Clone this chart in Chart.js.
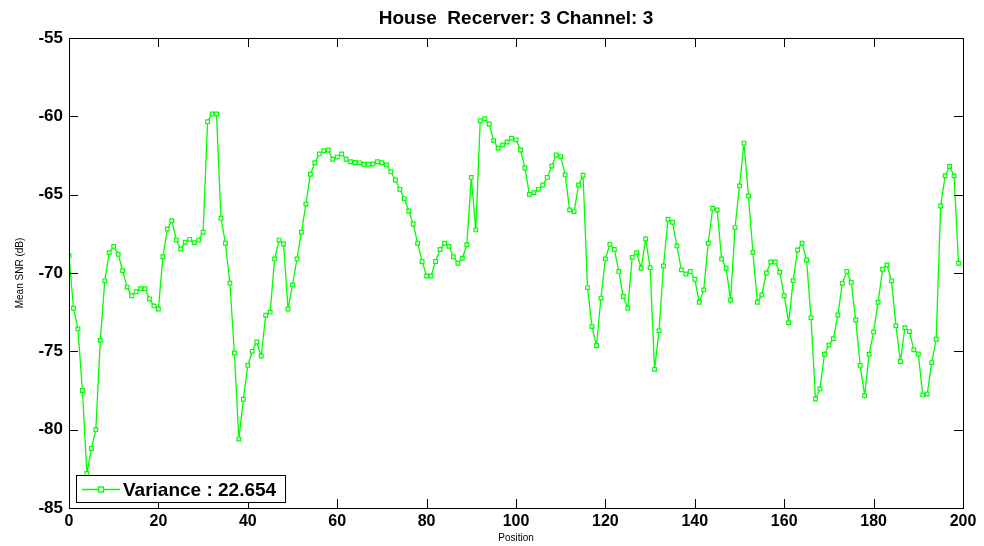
<!DOCTYPE html>
<html>
<head>
<meta charset="utf-8">
<script src="https://cdn.jsdelivr.net/npm/chart.js@4.4.1/dist/chart.umd.min.js"></script>
<style>
  html, body { margin: 0; padding: 0; background: #fff; }
  #wrap { width: 984px; height: 546px; }
</style>
</head>
<body>
<div id="wrap"><canvas id="snrChart" width="984" height="546"></canvas></div>
<script>
// Mean SNR per position (positions 0..199)
const snr = [
  -68.9, -72.25, -73.57, -77.5, -82.8, -81.2, -80.0, -74.3, -70.5, -68.7,
  -68.3, -68.8, -69.85, -70.9, -71.45, -71.2, -71.0, -71.0, -71.65, -72.1,
  -72.3, -68.96, -67.2, -66.66, -67.9, -68.47, -68.04, -67.85, -68.06, -67.9,
  -67.4, -60.34, -59.85, -59.85, -66.5, -68.1, -70.65, -75.1, -80.6, -78.06,
  -75.9, -75.0, -74.4, -75.3, -72.7, -72.5, -69.1, -67.9, -68.15, -72.3,
  -70.76, -69.1, -67.4, -65.6, -63.7, -62.96, -62.4, -62.2, -62.15, -62.74,
  -62.6, -62.4, -62.74, -62.9, -62.95, -62.97, -63.06, -63.06, -63.04, -62.9,
  -62.96, -63.1, -63.53, -64.06, -64.66, -65.25, -66.04, -66.87, -68.1, -69.27,
  -70.19, -70.19, -69.27, -68.5, -68.1, -68.3, -68.96, -69.38, -69.06, -68.2,
  -63.9, -67.25, -60.28, -60.15, -60.49, -61.55, -62.04, -61.83, -61.64, -61.4,
  -61.5, -62.15, -63.3, -64.98, -64.87, -64.66, -64.38, -63.9, -63.17, -62.47,
  -62.57, -63.74, -65.98, -66.08, -64.38, -63.76, -70.93, -73.42, -74.63, -71.6,
  -69.1, -68.17, -68.5, -69.9, -71.5, -72.25, -69.0, -68.7, -69.7, -67.83,
  -69.66, -76.15, -73.68, -69.55, -66.57, -66.76, -68.27, -69.8, -70.06, -69.9,
  -70.4, -71.87, -71.08, -68.1, -65.87, -65.98, -69.1, -69.7, -71.72, -67.1,
  -64.44, -61.72, -65.08, -68.68, -71.87, -71.4, -70.0, -69.3, -69.3, -69.95,
  -71.45, -73.17, -70.49, -68.53, -68.1, -69.17, -72.85, -78.04, -77.4, -75.19,
  -74.6, -74.19, -72.68, -70.66, -69.9, -70.6, -73.0, -75.9, -77.83, -75.19,
  -73.76, -71.87, -69.76, -69.49, -70.5, -73.36, -75.65, -73.49, -73.74, -74.9,
  -75.17, -77.78, -77.72, -75.72, -74.23, -65.72, -63.8, -63.2, -63.8, -69.38
];
const positions = snr.map((_, i) => i);

const xTicks = [0, 20, 40, 60, 80, 100, 120, 140, 160, 180, 200];
const yTicks = [-85, -80, -75, -70, -65, -60, -55];

const chartTitle = "House  Recerver: 3 Channel: 3";
const xTitle = "Position";
const yTitle = "Mean SNR (dB)";
const legendLabel = "Variance : 22.654";

const green = "#00ff00";
const fontFamily = "'Liberation Sans', Arial, sans-serif";

// box, inward ticks, titles and legend, MATLAB style
const matlabFrame = {
  id: "matlabFrame",
  beforeDraw(chart) {
    const ctx = chart.ctx;
    ctx.save();
    ctx.fillStyle = "#fff";
    ctx.fillRect(0, 0, chart.width, chart.height);
    ctx.restore();
  },
  afterDraw(chart) {
    const { ctx, chartArea: a, scales } = chart;
    const len = 9;
    ctx.save();
    ctx.strokeStyle = "#000";
    ctx.lineWidth = 1;
    ctx.beginPath();
    xTicks.forEach(v => {
      const px = Math.round(scales.x.getPixelForValue(v)) + 0.5;
      ctx.moveTo(px, a.bottom); ctx.lineTo(px, a.bottom - len);
      ctx.moveTo(px, a.top); ctx.lineTo(px, a.top + len);
    });
    yTicks.forEach(v => {
      const py = Math.round(scales.y.getPixelForValue(v)) + 0.5;
      ctx.moveTo(a.left, py); ctx.lineTo(a.left + len, py);
      ctx.moveTo(a.right, py); ctx.lineTo(a.right - len, py);
    });
    ctx.stroke();
    ctx.strokeRect(Math.round(a.left) + 0.5, Math.round(a.top) + 0.5,
      Math.round(a.right - a.left), Math.round(a.bottom - a.top));

    // title
    ctx.fillStyle = "#000";
    ctx.textAlign = "center";
    ctx.textBaseline = "alphabetic";
    ctx.font = "bold 19px " + fontFamily;
    ctx.fillText(chartTitle, (a.left + a.right) / 2, 24);

    // axis titles
    ctx.font = "10px " + fontFamily;
    ctx.fillText(xTitle, (a.left + a.right) / 2, 541);
    ctx.save();
    ctx.translate(23, (a.top + a.bottom) / 2);
    ctx.rotate(-Math.PI / 2);
    ctx.fillText(yTitle, 0, 0);
    ctx.restore();

    // legend box
    const lx = 76, ly = 475, lw = 209, lh = 27;
    ctx.fillStyle = "#fff";
    ctx.fillRect(lx, ly, lw, lh);
    ctx.strokeStyle = "#000";
    ctx.strokeRect(lx + 0.5, ly + 0.5, lw, lh);
    ctx.strokeStyle = green;
    ctx.lineWidth = 1.3;
    ctx.beginPath();
    ctx.moveTo(82, 489.5); ctx.lineTo(120, 489.5);
    ctx.stroke();
    ctx.fillStyle = "#fff";
    ctx.fillRect(98.5, 487, 5, 5);
    ctx.strokeRect(98.5, 487, 5, 5);
    ctx.fillStyle = "#000";
    ctx.textAlign = "left";
    ctx.font = "bold 19px " + fontFamily;
    ctx.fillText(legendLabel, 123, 496);
    ctx.restore();
  }
};

new Chart(document.getElementById("snrChart"), {
  type: "line",
  data: {
    datasets: [
      {
        data: positions.map((x, i) => ({ x: x, y: snr[i] })),
        borderColor: green,
        borderWidth: 1.3,
        pointStyle: "rect",
        pointRadius: 2.6,
        pointBorderWidth: 1.2,
        pointBorderColor: green,
        pointBackgroundColor: "#ffffff",
        tension: 0,
      },
    ],
  },
  options: {
    responsive: false,
    animation: false,
    events: [],
    layout: { padding: { left: 0, right: 21, top: 38, bottom: 0 } },
    plugins: {
      legend: { display: false },
      tooltip: { enabled: false },
      title: { display: false },
    },
    scales: {
      x: {
        type: "linear",
        min: 0,
        max: 200,
        afterBuildTicks(s) { s.ticks = xTicks.map(v => ({ value: v })); },
        afterFit(s) { s.height = 38; },
        ticks: { font: { family: fontFamily, size: 16, weight: "bold" }, color: "#000", padding: 4, maxRotation: 0 },
        grid: { display: false, drawTicks: false },
        border: { display: false },
      },
      y: {
        min: -85,
        max: -55,
        afterBuildTicks(s) { s.ticks = yTicks.map(v => ({ value: v })); },
        afterFit(s) { s.width = 69; },
        ticks: { font: { family: fontFamily, size: 17, weight: "bold" }, color: "#000", padding: 6 },
        grid: { display: false, drawTicks: false },
        border: { display: false },
      },
    },
  },
  plugins: [matlabFrame],
})
</script>
</body>
</html>
